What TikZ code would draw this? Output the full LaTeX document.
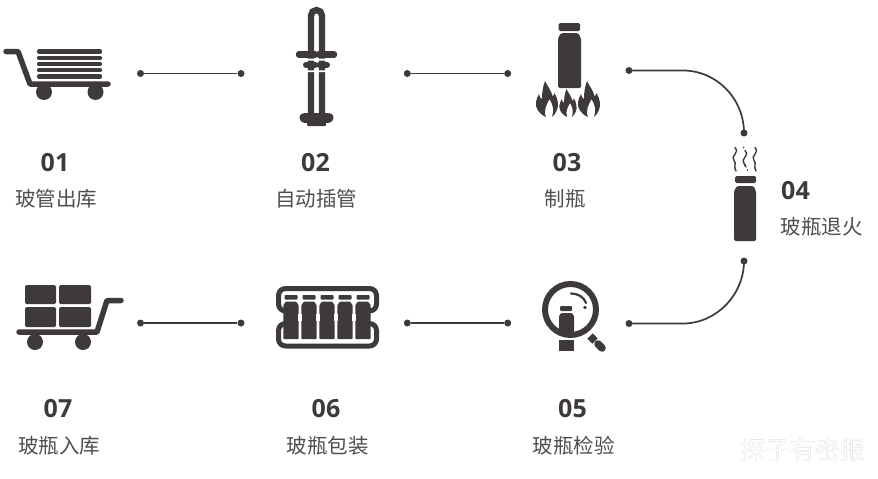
\documentclass[tikz,border=0pt]{standalone}
\usepackage{fontspec}
\setmainfont{Open Sans}
\newfontfamily\cjk{Noto Sans CJK SC}
\definecolor{ink}{HTML}{3E3A39}
\tikzset{
 x=1pt,y=-1pt,
 num/.style={font=\fontsize{25}{25}\selectfont\bfseries,text=ink,inner sep=0pt},
 lab/.style={font=\cjk\fontsize{20.5}{22}\selectfont,text=ink!90,inner sep=0pt},
 dot/.style={circle,fill=ink,inner sep=0pt,minimum size=7pt},
 link/.style={draw=ink,line width=1.7pt},
 bar/.style={draw=ink,line cap=round,line join=round},
}
\begin{document}
\begin{tikzpicture}
\useasboundingbox (0,0) rectangle (878,479);
\fill[white] (0,0) rectangle (878,479);
% cart 01
\draw[bar,line width=5.5pt] (6,51.5) -- (18,51.5) -- (30,84) -- (108,84);
\fill[ink] (44,92) circle (8) (95.5,92) circle (8);
\foreach \y in {51.5,57.8,64,70.3,76.5}\draw[bar,line width=4.2pt] (39,\y) -- (100,\y);
% tube 02
\draw[draw=ink,line width=6.3pt] (311,115) -- (311,15.5) arc[start angle=180,end angle=0,x radius=5.5,y radius=-5.5] -- (322,115);
\fill[white] (304,58.6) rectangle (330,60.6) (304,70.3) rectangle (330,72);
\draw[bar,line width=6.5pt] (299,54.5) -- (315,54.5) (319,54.5) -- (334,54.5);
\draw[bar,line width=6pt] (306,64.7) -- (315,64.7) (319.5,64.7) -- (327,64.7);
\draw[bar,line width=10pt] (304.5,117.5) -- (328.5,117.5);
\fill[ink,rounded corners=1pt] (307,115) rectangle (326,126);
% bottle 03
\fill[ink,rounded corners=1.5pt] (558.7,23) rectangle (580,31);
\fill[ink,rounded corners=1.5pt] (561,33) -- (578,33) -- (581,38) -- (581,88) -- (558,88) -- (558,38) -- cycle;
\foreach \ox/\oy/\s in {547/117/1,568/117/0.78,589/117/1}{
 \fill[ink,shift={(\ox,\oy)},xscale=\s,yscale=\s] (-1,0) .. controls (-8,-3) and (-12,-9) .. (-11,-15) .. controls (-10.5,-18) and (-9.5,-20) .. (-8,-23) .. controls (-7.5,-20) and (-6.5,-18.5) .. (-5,-18) .. controls (-5,-25) and (-4,-31) .. (-2,-36) .. controls (1,-30) and (4,-27) .. (5.5,-21) .. controls (6.5,-21) and (7,-22) .. (7.5,-24) .. controls (11,-18) and (12,-12) .. (10,-7) .. controls (9,-4) and (7,-2) .. (5,0) .. controls (7,-6) and (6.5,-12) .. (2.5,-18) .. controls (0,-13) and (-4,-7) .. (-1,0) -- cycle;
}
% bottle 04
\fill[ink,rounded corners=1.5pt] (735,176) rectangle (756,183);
\fill[ink,rounded corners=1.5pt] (737,186) -- (753.5,186) -- (756,191) -- (756,241) -- (734,241) -- (734,191) -- cycle;
\foreach \sx/\st/\en in {735/147.5/171,745/150.5/167,755/147.5/171}
 \draw[draw=ink,line width=1.4pt,line cap=round] (\sx,\st) .. controls (\sx+5,\st+6) and (\sx-5,\st+8) .. (\sx-1,\st+13) .. controls (\sx+2,\st+16) and (\sx-2,\en-4) .. (\sx+1,\en);
\fill[ink] (743.5,147.5) circle (.9) (747.5,170) circle (.9);
% magnifier 05
\draw[draw=ink,line width=6pt] (570.5,309.5) circle (25.5);
\draw[draw=ink,line width=2.2pt,line cap=round] (571,293.5) .. controls (578,293.5) and (584,297) .. (586,303);
\fill[ink] (585,307.5) circle (1.8);
\fill[ink,rounded corners=1pt] (560,306) rectangle (572,311);
\fill[ink,rounded corners=1pt] (561,313) -- (572,313) -- (574,316) -- (574,335) -- (559,335) -- (559,316) -- cycle;
\fill[ink] (559,339.5) rectangle (574,350.5);
\draw[draw=ink,line width=7.5pt] (590,336) -- (595,341);
\draw[draw=ink,line width=7.5pt,line cap=round] (598,344) -- (602,348);
% tray 06
\draw[draw=ink,line width=5pt,line join=round,rounded corners=7pt] (286,311) -- (278.5,311) -- (278.5,288.5) -- (376.5,288.5) -- (376.5,311) -- (369,311);
\draw[draw=ink,line width=5pt,line join=round,rounded corners=7pt] (286,323.5) -- (278.5,323.5) -- (278.5,346) -- (376.5,346) -- (376.5,323.5) -- (369,323.5);
\foreach \bx in {291,309,327,345,363}{
 \fill[ink,rounded corners=.8pt] (\bx-6.5,295) rectangle (\bx+6.5,299.5);
 \fill[ink,rounded corners=.8pt] (\bx-5,301.5) -- (\bx+5,301.5) -- (\bx+7.6,305) -- (\bx+7.6,339) -- (\bx-7.6,339) -- (\bx-7.6,305) -- cycle;
}
\foreach \gx in {300,318,336,354}
 \fill[white] (\gx-2,313.5) rectangle (\gx+2,321);
% cart 07
\fill[ink,rounded corners=1.5pt] (25,285) rectangle (56,304) (59,285) rectangle (91,304) (25,307) rectangle (56,327) (59,307) rectangle (91,327);
\draw[bar,line width=5.5pt] (19,332) -- (97,332) -- (107,300.5) -- (121,300.5);
\fill[ink] (35,342) circle (8) (83,342) circle (8);
% connectors
\node[dot] (a1) at (140.5,73.5) {}; \node[dot] (a2) at (241,73.5) {};
\node[dot] (b1) at (407.3,73.5) {}; \node[dot] (b2) at (507.7,73.5) {};
\node[dot] (c1) at (629,70.5) {}; \node[dot] (c2) at (744,133) {};
\node[dot] (d1) at (744,261) {}; \node[dot] (d2) at (629,323.5) {};
\node[dot] (e1) at (507.7,323) {}; \node[dot] (e2) at (407.3,323) {};
\node[dot] (f1) at (241,323) {}; \node[dot] (f2) at (140.5,323) {};
\draw[link] (a1) -- (a2);
\draw[link] (b1) -- (b2);
\draw[link] (c1.center) -- (683,70.5) .. controls (716,70.5) and (744,98) .. (c2.center);
\draw[link] (d1.center) .. controls (744,295) and (716,323.5) .. (683,323.5) -- (d2.center);
\draw[link] (e1) -- (e2);
\draw[link] (f1) -- (f2);
% labels
\node[num] (n1) at (55,162.5) {01}; \node[lab] (t1) at (56,198.5) {玻管出库};
\node[num] (n2) at (315.5,162.5) {02}; \node[lab] (t2) at (316,198.5) {自动插管};
\node[num] (n3) at (567,162.5) {03}; \node[lab] (t3) at (565,198.5) {制瓶};
\node[num] (n4) at (795.5,190.5) {04}; \node[lab] (t4) at (821.5,226.5) {玻瓶退火};
\node[num] (n5) at (572.5,408.5) {05}; \node[lab] (t5) at (573.5,445.5) {玻瓶检验};
\node[num] (n6) at (326,408.5) {06}; \node[lab] (t6) at (327.5,445.5) {玻瓶包装};
\node[num] (n7) at (58,408.5) {07}; \node[lab] (t7) at (59,445.5) {玻瓶入库};
% watermark
\node[font=\cjk\fontsize{25}{25}\selectfont,text=black!35,inner sep=0pt] (w0) at (802.5,449.5) {探子有密报};
\node[font=\cjk\fontsize{25}{25}\selectfont,text=white,inner sep=0pt] (w1) at (803.2,450) {探子有密报};
\end{tikzpicture}
\end{document}
